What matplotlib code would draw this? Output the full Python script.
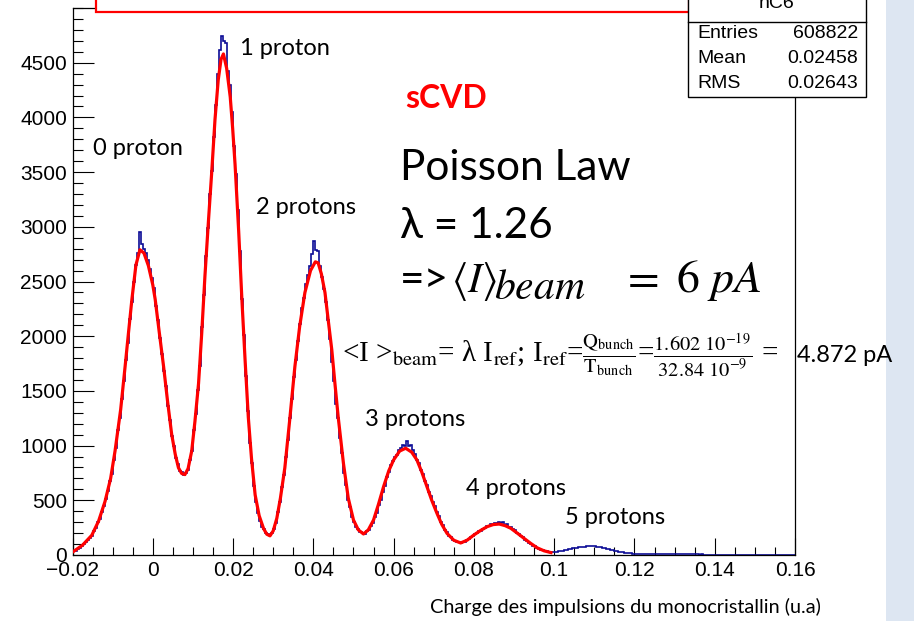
import numpy as np
import matplotlib.pyplot as plt
from matplotlib.patches import Rectangle
from matplotlib.lines import Line2D

# hC6 : charge spectrum, 360 bins between -0.02 and 0.16
x_lo, x_hi, n_bins = -0.02, 0.16, 360
counts = [
    32, 40, 57, 64, 82, 96, 118, 133, 158, 176,
    218, 250, 300, 330, 395, 445, 515, 585, 672, 740,
    870, 980, 1140, 1255, 1430, 1590, 1785, 1940, 2160, 2310,
    2500, 2650, 2760, 2950, 2840, 2800, 2760, 2700, 2610, 2530,
    2440, 2280, 2150, 1980, 1840, 1680, 1545, 1360, 1230, 1085,
    1000, 890, 830, 770, 755, 735, 750, 780, 870, 955,
    1145, 1290, 1510, 1730, 2080, 2380, 2730, 2990, 3300, 3510,
    3820, 4110, 4400, 4620, 4740, 4700, 4680, 4420, 4300, 4050,
    3740, 3480, 3150, 2780, 2340, 2010, 1640, 1320, 1020, 840,
    630, 480, 385, 315, 255, 235, 200, 190, 180, 200,
    235, 295, 395, 485, 620, 735, 900, 1050, 1250, 1430,
    1630, 1780, 1960, 2110, 2260, 2350, 2480, 2560, 2640, 2750,
    2870, 2790, 2780, 2640, 2540, 2430, 2310, 2150, 1970, 1760,
    1590, 1380, 1250, 1070, 930, 750, 640, 505, 440, 345,
    305, 260, 240, 212, 205, 190, 215, 225, 265, 295,
    345, 385, 458, 505, 580, 635, 710, 755, 820, 855,
    900, 910, 960, 975, 1010, 995, 1040, 1000, 1010, 960,
    920, 870, 840, 775, 740, 675, 640, 575, 540, 480,
    445, 390, 355, 305, 275, 232, 210, 178, 165, 138,
    130, 118, 116, 108, 118, 120, 136, 145, 168, 175,
    192, 198, 218, 222, 242, 246, 265, 262, 280, 276,
    295, 290, 305, 288, 300, 275, 280, 258, 260, 236,
    225, 200, 195, 170, 165, 140, 132, 110, 105, 86,
    78, 62, 58, 46, 42, 34, 32, 28, 27, 26,
    28, 31, 33, 36, 40, 44, 48, 52, 56, 60,
    63, 66, 70, 72, 74, 76, 78, 80, 79, 81,
    78, 76, 74, 70, 67, 63, 58, 54, 49, 44,
    40, 35, 31, 27, 24, 21, 18, 16, 15, 13,
    12, 12, 11, 11, 10, 10, 10, 9, 9, 9,
    9, 8, 8, 9, 8, 8, 7, 8, 7, 7,
    7, 6, 7, 6, 6, 6, 5, 6, 5, 5,
    5, 5, 4, 5, 4, 4, 4, 4, 4, 4,
    3, 4, 3, 3, 3, 3, 3, 3, 3, 3,
    3, 2, 3, 2, 2, 2, 2, 2, 2, 2,
    2, 2, 2, 2, 2, 2, 1, 2, 1, 1,
    1, 1, 1, 1, 1, 1, 1, 1, 1, 1,
]

# multi-gaussian fit (Poisson weighted peaks)
fit_x = [
    -0.0200, -0.0175, -0.0152, -0.0135, -0.0119, -0.0105, -0.0094, -0.0080,
    -0.0069, -0.0060, -0.0052, -0.0042, -0.0032, -0.0022, -0.0011, 0.0000,
    0.0006, 0.0016, 0.0027, 0.0037, 0.0047, 0.0056, 0.0064, 0.0072,
    0.0080, 0.0088, 0.0097, 0.0105, 0.0114, 0.0122, 0.0130, 0.0139,
    0.0147, 0.0155, 0.0163, 0.0170, 0.0176, 0.0184, 0.0193, 0.0199,
    0.0205, 0.0214, 0.0222, 0.0230, 0.0238, 0.0246, 0.0255, 0.0265,
    0.0276, 0.0284, 0.0292, 0.0300, 0.0309, 0.0318, 0.0329, 0.0341,
    0.0354, 0.0366, 0.0379, 0.0393, 0.0405, 0.0412, 0.0420, 0.0429,
    0.0437, 0.0446, 0.0454, 0.0462, 0.0475, 0.0487, 0.0500, 0.0512,
    0.0525, 0.0537, 0.0550, 0.0562, 0.0575, 0.0588, 0.0600, 0.0615,
    0.0630, 0.0645, 0.0658, 0.0670, 0.0683, 0.0695, 0.0708, 0.0720,
    0.0733, 0.0750, 0.0767, 0.0783, 0.0800, 0.0817, 0.0833, 0.0848,
    0.0863, 0.0878, 0.0892, 0.0908, 0.0925, 0.0942, 0.0958, 0.0975,
    0.0992,
]
fit_y = [
    26, 90, 180, 310, 489, 700, 951, 1330,
    1721, 2050, 2337, 2650, 2790, 2760, 2645, 2470,
    2337, 2040, 1721, 1400, 1105, 920, 797, 745,
    735, 790, 951, 1220, 1567, 2030, 2553, 3070,
    3508, 3980, 4340, 4530, 4580, 4450, 4186, 3900,
    3570, 2960, 2337, 1780, 1259, 880, 550, 360,
    242, 190, 175, 220, 335, 520, 797, 1230,
    1721, 2090, 2399, 2600, 2680, 2670, 2570, 2399,
    2150, 1875, 1560, 1259, 838, 520, 320, 230,
    192, 230, 320, 460, 625, 770, 869, 950,
    976, 940, 869, 760, 625, 500, 381, 280,
    198, 135, 110, 135, 183, 225, 259, 278,
    283, 268, 244, 200, 152, 105, 65, 38,
    22,
]

peak_labels = ['0 proton', '1 proton', '2 protons', '3 protons', '4 protons', '5 protons']
peak_label_x = [-0.0149, 0.0217, 0.0257, 0.0529, 0.0780, 0.1027]
peak_label_y = [3720, 4634, 3172, 1243, 612, 347]

x_ticks = [-0.02, 0.0, 0.02, 0.04, 0.06, 0.08, 0.10, 0.12, 0.14, 0.16]
x_tick_labels = ['\u22120.02', '0', '0.02', '0.04', '0.06', '0.08', '0.1', '0.12', '0.14', '0.16']
y_ticks = [0, 500, 1000, 1500, 2000, 2500, 3000, 3500, 4000, 4500]

stats_names = ['Entries', 'Mean', 'RMS']
stats_values = ['608822', '0.02458', '0.02643']

plt.rcParams['font.family'] = ['Liberation Sans', 'DejaVu Sans']
CAL = ['Lato', 'DejaVu Sans']
SERIF = ['Liberation Serif', 'DejaVu Serif']

W, H = 914, 621


def fx(px):
    return px / W


def fy(py):
    return 1 - py / H


fig = plt.figure(figsize=(9.14, 6.21), dpi=100)
ax = fig.add_axes([fx(72.5), fy(555), fx(795) - fx(72.5), fy(8) - fy(555)])

edges = np.linspace(x_lo, x_hi, n_bins + 1)
ax.stairs(counts, edges, color='#0c0c96', lw=1.2, zorder=2)
ax.plot(fit_x, fit_y, color='#ff0000', lw=2.3, zorder=3)

ax.set_xlim(x_lo, x_hi)
ax.set_ylim(0, 5000)
ax.set_xticks(x_ticks)
ax.set_xticklabels(x_tick_labels)
ax.set_xticks(np.arange(-0.02, 0.1601, 0.005), minor=True)
ax.set_yticks(y_ticks)
ax.set_yticks(np.arange(0, 5001, 100), minor=True)
ax.tick_params(which='both', direction='in', width=0.8, labelsize=15)
ax.tick_params(axis='x', which='major', length=12, pad=4)
ax.tick_params(axis='x', which='minor', length=6)
ax.tick_params(axis='y', which='major', length=15, pad=4)
ax.tick_params(axis='y', which='minor', length=7)
for s in ax.spines.values():
    s.set_linewidth(0.9)

for lab, lx, ly in zip(peak_labels, peak_label_x, peak_label_y):
    ax.text(lx, ly, lab, ha='left', va='center', family=CAL, size=17)

# title boxes on top of the frame
fig.add_artist(Rectangle((fx(96), fy(12)), fx(689) - fx(96), fy(-20) - fy(12),
                         transform=fig.transFigure, facecolor='white',
                         edgecolor='#ff0000', lw=1.6, zorder=5))
fig.add_artist(Rectangle((fx(688), fy(97)), fx(866) - fx(688), fy(-20) - fy(97),
                         transform=fig.transFigure, facecolor='white',
                         edgecolor='black', lw=1.0, zorder=5))
fig.add_artist(Line2D([fx(688), fx(866)], [fy(22), fy(22)],
                      transform=fig.transFigure, color='black', lw=1.0, zorder=6))
fig.text(fx(777), fy(4), 'hC6', ha='center', va='center', size=14, zorder=7)
for i, (name, val) in enumerate(zip(stats_names, stats_values)):
    yy = fy(34 + 24.5 * i)
    fig.text(fx(697), yy, name, ha='left', va='center', size=14, zorder=7)
    fig.text(fx(858), yy, val, ha='right', va='center', size=14, zorder=7)

# side strip
fig.add_artist(Rectangle((fx(886), 0), 1 - fx(886), 1, transform=fig.transFigure,
                         facecolor='#dde6f2', edgecolor='none', zorder=1))

fig.text(fx(405), fy(98), 'sCVD', ha='left', va='center', family=CAL,
         size=23, weight='bold', color='#ff0000')
fig.text(fx(400), fy(168), 'Poisson Law', ha='left', va='center', family=CAL, size=30.5)
fig.text(fx(400), fy(226), '\u03bb = 1.26', ha='left', va='center', family=CAL, size=30.5)

# mean beam current line, baseline at y = 292 px
base = fy(292)
fig.text(fx(400), base, '=>', ha='left', va='baseline', family=CAL, size=30.5)
fig.text(fx(451), base, r'$\langle I\rangle$', ha='left', va='baseline',
         size=30, math_fontfamily='stix')
fig.text(fx(494), fy(299), r'$beam$', ha='left', va='baseline',
         size=30, math_fontfamily='stix')
fig.text(fx(621), base, r'$=\ 6\ pA$', ha='left', va='baseline',
         size=33, math_fontfamily='stix')

formula = (r'<I >$_{\rm beam}$= λ I$_{\rm ref}$; I$_{\rm ref}$='
           r'$\frac{\mathrm{Q_{bunch}}}{\mathrm{T_{bunch}}}$='
           r'$\frac{1.602\ 10^{-19}}{32.84\ 10^{-9}}$ =')
fig.text(fx(342), fy(355), formula, ha='left', va='center', family=SERIF,
         size=21, math_fontfamily='stix')
fig.text(fx(797), fy(355), '4.872 pA', ha='left', va='center', family=CAL,
         size=17, zorder=8)

fig.text(fx(625), fy(607), 'Charge des impulsions du monocristallin (u.a)',
         ha='center', va='center', family=CAL, size=14.3)

fig.savefig('out.png', dpi=100)
